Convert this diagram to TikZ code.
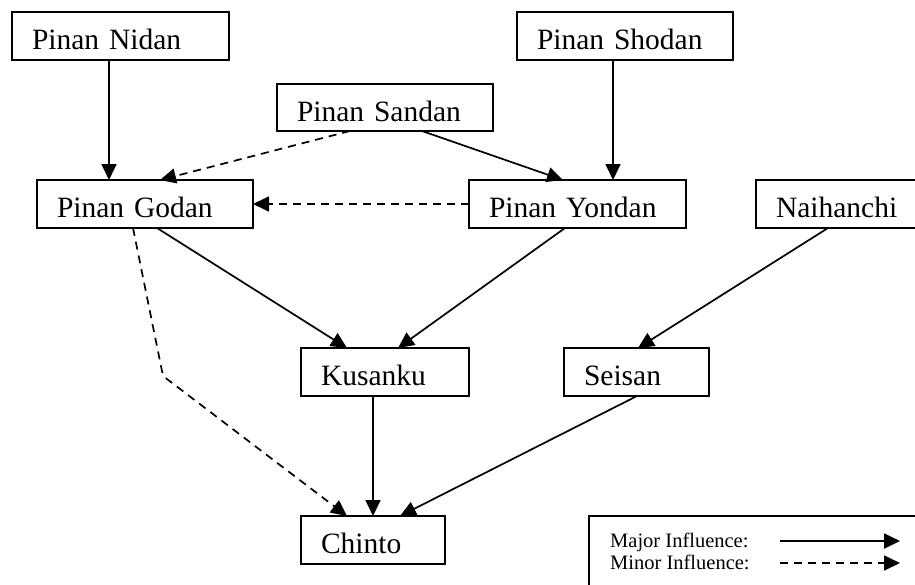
\documentclass[tikz,border=0pt]{standalone}
\usepackage{fontspec}
\setmainfont{Liberation Serif}
\usetikzlibrary{arrows.meta}
\tikzset{
  kbox/.style={draw, line width=1.9pt, outer sep=0pt, inner xsep=20pt, inner ysep=0pt,
    text height=27pt, text depth=0pt, minimum height=48pt, align=left, anchor=north west,
    font=\fontsize{29.5}{34}\selectfont},
  major/.style={line width=1.7pt, -{Triangle[length=16pt,width=15pt]}},
  minor/.style={major, dash pattern=on 8pt off 6pt},
  legtext/.style={anchor=base west, inner sep=0pt, font=\fontsize{20.5}{24}\selectfont}
}
\begin{document}
\begin{tikzpicture}[x=1pt,y=-1pt]
\useasboundingbox (0,0) rectangle (915,584);
\fill[white] (0,0) rectangle (915,584);
% boxes
\node[kbox, text width=177pt] (nidan) at (12,12) {Pinan Nidan};
\node[kbox, text width=176pt] (shodan) at (517,12) {Pinan Shodan};
\node[kbox, text width=176pt, minimum height=47pt] (sandan) at (277,84) {Pinan Sandan};
\node[kbox, text width=176pt] (godan) at (37,180) {Pinan Godan};
\node[kbox, text width=177pt] (yondan) at (469,180) {Pinan Yondan};
\node[kbox, text width=176pt] (naihanchi) at (756,180) {Naihanchi};
\node[kbox, text width=128pt] (kusanku) at (301,348) {Kusanku};
\node[kbox, text width=105pt] (seisan) at (564,348) {Seisan};
\node[kbox, text width=104pt] (chinto) at (301,516) {Chinto};
% connectors
\draw[major] ([xshift=97pt]nidan.south west) -- ([xshift=72pt]godan.north west);
\draw[major] ([xshift=96pt]shodan.south west) -- ([xshift=144pt]yondan.north west);
\draw[minor] ([xshift=73pt]sandan.south west) -- ([xshift=123pt]godan.north west);
\draw[major] ([xshift=145pt]sandan.south west) -- ([xshift=94pt]yondan.north west);
\draw[minor] (yondan.west) -- (godan.east);
\draw[major] ([xshift=120pt]godan.south west) -- ([xshift=46pt]kusanku.north west);
\draw[major] ([xshift=96pt]yondan.south west) -- ([xshift=97pt]kusanku.north west);
\draw[major] ([xshift=72pt]naihanchi.south west) -- ([xshift=74pt]seisan.north west);
\draw[minor, rounded corners=5pt] ([xshift=96pt]godan.south west) -- ([xshift=-138pt,yshift=140pt]chinto.north west) -- ([xshift=46pt]chinto.north west);
\draw[major] ([xshift=72pt]kusanku.south west) -- ([xshift=72pt]chinto.north west);
\draw[major] ([xshift=73pt]seisan.south west) -- ([xshift=99pt]chinto.north west);
% legend
\node[draw, line width=1.9pt, outer sep=0pt, anchor=north west, minimum width=400pt, minimum height=120pt] (legend) at (589,516) {};
\node[legtext] (majtext) at (610,547) {Major Influence:};
\node[legtext] (mintext) at (610,569) {Minor Influence:};
\coordinate (majA) at (780,541);
\coordinate (majB) at (900,541);
\coordinate (minA) at (780,563);
\coordinate (minB) at (900,563);
\draw[major] (majA) -- (majB);
\draw[minor] (minA) -- (minB);
\end{tikzpicture}
\end{document}
